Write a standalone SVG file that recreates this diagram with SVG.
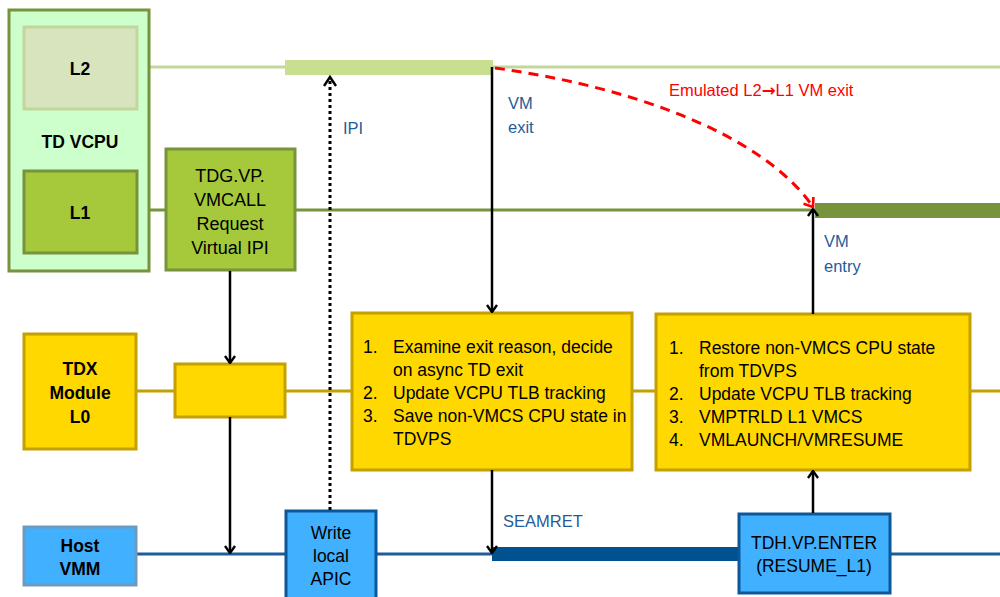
<svg xmlns="http://www.w3.org/2000/svg" width="1000" height="597" viewBox="0 0 1000 597">
<defs>
<marker id="ah" viewBox="0 0 12 12" refX="11" refY="6" markerWidth="12" markerHeight="12" markerUnits="userSpaceOnUse" orient="auto">
<path d="M4,1 L11,6 L4,11" fill="none" stroke="#000" stroke-width="2.4"/>
</marker>
<marker id="ahr" viewBox="0 0 14 14" refX="12" refY="7" markerWidth="14" markerHeight="14" markerUnits="userSpaceOnUse" orient="auto">
<path d="M4,1 L12,7 L4,13" fill="none" stroke="#ff0000" stroke-width="2.6"/>
</marker>
</defs>
<style>
text{font-family:"Liberation Sans",Arial,sans-serif;font-size:17.5px;fill:#000}
.b{font-weight:bold;text-anchor:middle}
.c{text-anchor:middle}
.lbl{fill:#1f5c99;font-size:16.5px}
.red{fill:#ff0000;font-size:16.5px}
.arr{stroke:#000;stroke-width:2.5;fill:none}
</style>
<rect width="1000" height="597" fill="#ffffff"/>
<g id="timelines">
<line x1="137" y1="67" x2="1000" y2="67" stroke="#c3d69b" stroke-width="3"/>
<rect x="285" y="60" width="208" height="15" fill="#c8df8f"/>
<line x1="137" y1="210" x2="1000" y2="210" stroke="#77933c" stroke-width="3"/>
<rect x="815" y="203" width="185" height="15" fill="#77933c"/>
<line x1="136" y1="391" x2="1000" y2="391" stroke="#c4a000" stroke-width="3"/>
<line x1="136" y1="554" x2="1000" y2="554" stroke="#1f5c99" stroke-width="3"/>
<rect x="492" y="547" width="246" height="14" fill="#00518f"/>
</g>
<g id="td-vcpu">
<rect x="9" y="10" width="140" height="261" fill="#ccffcc" stroke="#77933c" stroke-width="3"/>
<text class="b" x="80" y="148">TD VCPU</text>
</g>
<g id="l2">
<rect x="24" y="27" width="113" height="82" fill="#d7e4bd" stroke="#c3d69b" stroke-width="3"/>
<text class="b" x="80" y="75">L2</text>
</g>
<g id="l1">
<rect x="24" y="171" width="113" height="82" fill="#a5c93a" stroke="#77933c" stroke-width="3"/>
<text class="b" x="80" y="219">L1</text>
</g>
<g id="tdg-vmcall">
<rect x="166" y="149" width="129" height="121" fill="#a5c93a" stroke="#77933c" stroke-width="3"/>
<text class="c" x="230" y="182" style="font-size:18px">TDG.VP.</text>
<text class="c" x="230" y="206" style="font-size:18px">VMCALL</text>
<text class="c" x="230" y="230" style="font-size:18px">Request</text>
<text class="c" x="230" y="254" style="font-size:18px">Virtual IPI</text>
</g>
<g id="tdx-module">
<rect x="24" y="334" width="112" height="115" fill="#ffd800" stroke="#c4a000" stroke-width="3"/>
<text class="b" x="80" y="375">TDX</text>
<text class="b" x="80" y="399">Module</text>
<text class="b" x="80" y="423">L0</text>
</g>
<g id="tdx-small">
<rect x="175" y="364" width="110" height="53" fill="#ffd800" stroke="#c4a000" stroke-width="3"/>
</g>
<g id="exit-box">
<rect x="352" y="313" width="280" height="157" fill="#ffd800" stroke="#c4a000" stroke-width="3"/>
<text x="363" y="353">1.</text><text x="393" y="353">Examine exit reason, decide</text>
<text x="393" y="376">on async TD exit</text>
<text x="363" y="399">2.</text><text x="393" y="399">Update VCPU TLB tracking</text>
<text x="363" y="422">3.</text><text x="393" y="422">Save non-VMCS CPU state in</text>
<text x="393" y="445">TDVPS</text>
</g>
<g id="entry-box">
<rect x="656" y="314" width="314" height="156" fill="#ffd800" stroke="#c4a000" stroke-width="3"/>
<text x="669" y="354">1.</text><text x="699" y="354">Restore non-VMCS CPU state</text>
<text x="699" y="377">from TDVPS</text>
<text x="669" y="400">2.</text><text x="699" y="400">Update VCPU TLB tracking</text>
<text x="669" y="423">3.</text><text x="699" y="423">VMPTRLD L1 VMCS</text>
<text x="669" y="446">4.</text><text x="699" y="446">VMLAUNCH/VMRESUME</text>
</g>
<g id="host-vmm">
<rect x="24" y="527" width="112" height="58" fill="#40b0ff" stroke="#6d9bbf" stroke-width="3"/>
<text class="b" x="80" y="552">Host</text>
<text class="b" x="80" y="575">VMM</text>
</g>
<g id="write-apic">
<rect x="286" y="511" width="90" height="88" fill="#40b0ff" stroke="#0c5799" stroke-width="3"/>
<text class="c" x="331" y="539">Write</text>
<text class="c" x="331" y="562">local</text>
<text class="c" x="331" y="585">APIC</text>
</g>
<g id="tdh-vp-enter">
<rect x="739" y="514" width="151" height="79" fill="#40b0ff" stroke="#0c5799" stroke-width="3"/>
<text class="c" x="814" y="549">TDH.VP.ENTER</text>
<text class="c" x="814" y="572">(RESUME_L1)</text>
</g>
<g id="connectors">
<line class="arr" x1="230" y1="271" x2="230" y2="363" marker-end="url(#ah)"/>
<line class="arr" x1="230" y1="417" x2="230" y2="553" marker-end="url(#ah)"/>
<line x1="330" y1="510" x2="330" y2="78" stroke="#000" stroke-width="3" stroke-dasharray="3,3" fill="none"/>
<path d="M324,86 L330,77 L336,86" fill="none" stroke="#000" stroke-width="2.4"/>
<line class="arr" x1="492" y1="67" x2="492" y2="312" marker-end="url(#ah)"/>
<line class="arr" x1="492" y1="470" x2="492" y2="553" marker-end="url(#ah)"/>
<line class="arr" x1="813" y1="513" x2="813" y2="471" marker-end="url(#ah)"/>
<line class="arr" x1="813" y1="314" x2="813" y2="209" marker-end="url(#ah)"/>
<path d="M495,68 C620,85 760,130 813,207" fill="none" stroke="#ff0000" stroke-width="3" stroke-dasharray="10,7" marker-end="url(#ahr)"/>
<text class="lbl" x="343" y="134">IPI</text>
<text class="lbl" x="508" y="109">VM</text>
<text class="lbl" x="508" y="133">exit</text>
<text class="lbl" x="824" y="247">VM</text>
<text class="lbl" x="824" y="272">entry</text>
<text class="lbl" x="503" y="527">SEAMRET</text>
<text class="red" x="669" y="96">Emulated L2<tspan style="font-family:'DejaVu Sans',sans-serif;font-weight:bold">→</tspan>L1 VM exit</text>
</g>
</svg>
